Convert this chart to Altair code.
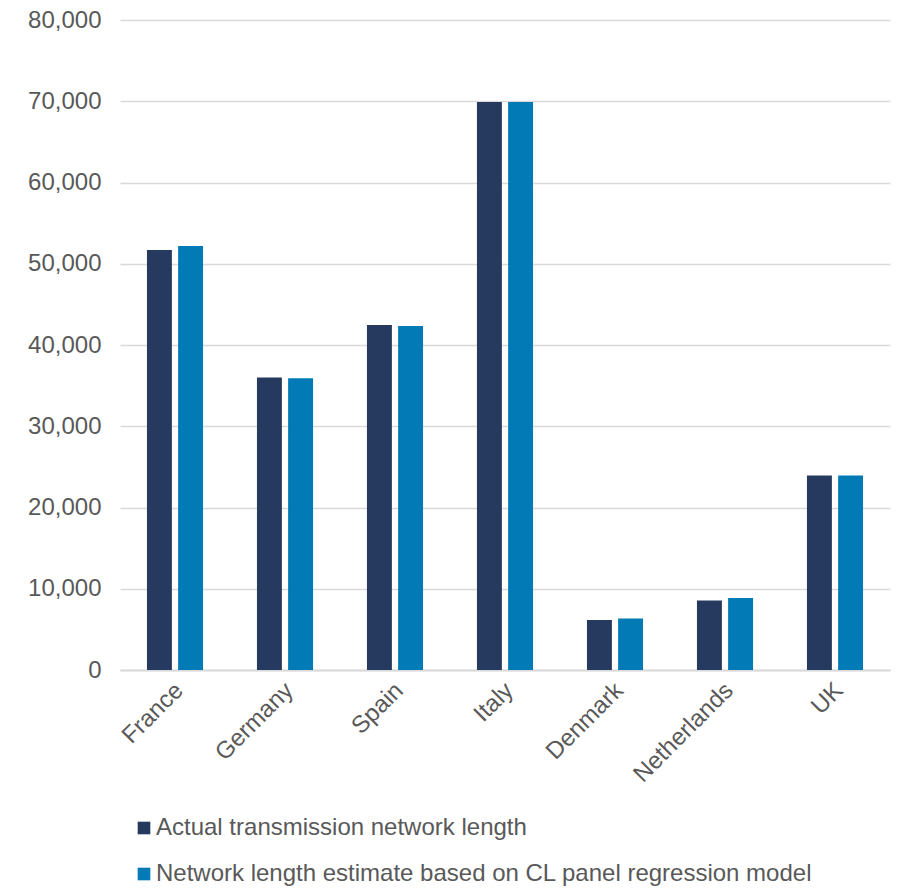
import altair as alt
import pandas as pd

countries = ["France", "Germany", "Spain", "Italy", "Denmark", "Netherlands", "UK"]
actual = [51700, 36000, 42450, 69900, 6150, 8550, 23950]
estimate = [52200, 35900, 42350, 69900, 6350, 8850, 23950]
series_names = [
    "Actual transmission network length",
    "Network length estimate based on CL panel regression model",
]
colors = ["#253A5E", "#027AB6"]

rows = []
for c, a, e in zip(countries, actual, estimate):
    rows.append({"country": c, "series": series_names[0], "value": a})
    rows.append({"country": c, "series": series_names[1], "value": e})
df = pd.DataFrame(rows)

font = "Liberation Sans"
grey = "#595959"
fs = 24

chart = alt.Chart(df).mark_bar().encode(
    x=alt.X("country:N", sort=countries,
            scale=alt.Scale(paddingInner=0.49, paddingOuter=0.245),
            axis=alt.Axis(title=None, labelAngle=-45, labelFontSize=fs, labelFont=font,
                          labelColor=grey, ticks=False, domain=True, domainColor="#D9D9D9",
                          domainWidth=2, labelPadding=8, labelOffset=-4, grid=False)),
    xOffset=alt.XOffset("series:N", sort=series_names,
                        scale=alt.Scale(paddingInner=0.2, paddingOuter=0)),
    y=alt.Y("value:Q", scale=alt.Scale(domain=[0, 80000]),
            axis=alt.Axis(title=None, values=list(range(0, 80001, 10000)), format=",d",
                          labelFontSize=fs, labelFont=font, labelColor=grey, ticks=False,
                          domain=False, gridColor="#D9D9D9", gridWidth=1.5, labelPadding=19)),
    color=alt.Color("series:N", sort=series_names,
                    scale=alt.Scale(domain=series_names, range=colors),
                    legend=alt.Legend(title=None, orient="none", legendX=12, legendY=796,
                                      padding=0,
                                      direction="vertical", symbolType="square", symbolSize=160,
                                      symbolStrokeWidth=0, labelFontSize=fs, labelFont=font,
                                      labelColor=grey, rowPadding=22, labelOffset=0,
                                      labelLimit=900)),
).properties(
    width=770, height=650,
    autosize=alt.AutoSizeParams(type="none"),
    padding={"left": 112, "top": 12, "right": 7, "bottom": 225},
).configure_view(stroke=None)

chart.save("out.html", embed_options={"renderer": "svg", "actions": False})
